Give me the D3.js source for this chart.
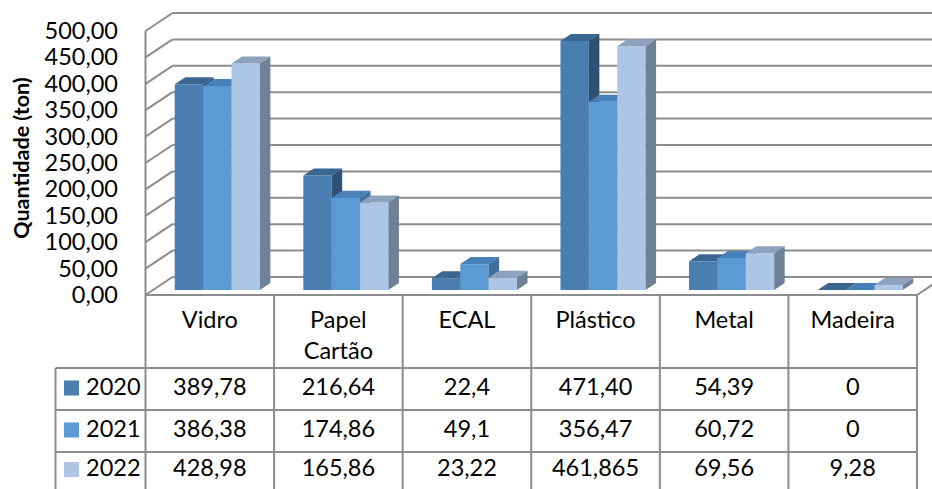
<!DOCTYPE html>
<html><head><meta charset="utf-8">
<script src="https://cdn.jsdelivr.net/npm/d3@7"></script>
<style>
html,body{margin:0;padding:0;background:#fff;}
svg{display:block;}
text{font-family:Lato,"Open Sans",sans-serif;fill:#000;}
</style></head>
<body><svg id="c" width="932" height="489"></svg>
<script>
const categories = [["Vidro"],["Papel","Cartão"],["ECAL"],["Plástico"],["Metal"],["Madeira"]];
const series = ["2020","2021","2022"];
const values2020 = [389.78,216.64,22.4,471.40,54.39,0];
const values2021 = [386.38,174.86,49.1,356.47,60.72,0];
const values2022 = [428.98,165.86,23.22,461.865,69.56,9.28];
const labels2020 = ["389,78","216,64","22,4","471,40","54,39","0"];
const labels2021 = ["386,38","174,86","49,1","356,47","60,72","0"];
const labels2022 = ["428,98","165,86","23,22","461,865","69,56","9,28"];
const yTicks = [0,50,100,150,200,250,300,350,400,450,500];
const seriesValues = [values2020, values2021, values2022];
const seriesLabels = [labels2020, labels2021, labels2022];
const frontColors = ["#4A7EB1","#5B9BD5","#ADC6E5"];
const topColors = ["#3A6690","#4880B8","#8DA2BC"];
const sideColors = ["#2F5274","#3F6F9C","#6E8196"];

const svg = d3.select("#c");
const DX = 27, DY = 18;
const xLeft = 145.5, xRight = 917;
const catNames = categories.map(c => c.join(" "));
const x = d3.scaleBand().domain(catNames).range([xLeft, xRight]);
const y = d3.scaleLinear().domain([0,500]).range([295,31]);
const bw = x.bandwidth();
const xs = d3.scaleBand().domain(series).range([bw*0.169, bw*0.831]);
const fmt = d3.formatLocale({decimal:",",thousands:".",grouping:[3],currency:["",""]}).format(".2f");
const P = (px, v, d) => [px + d*DX, y(v) - d*DY];
const grid = "#8C8C8C";
const FS = "23.5px";

// back wall gridlines
const g = svg.append("g");
yTicks.forEach(t => {
  const [bx, by] = P(xLeft, t, 1);
  g.append("line").attr("x1", bx).attr("x2", 940).attr("y1", by).attr("y2", by)
    .attr("stroke", grid).attr("stroke-width", 2);
  g.append("line").attr("x1", xLeft).attr("y1", y(t)).attr("x2", bx).attr("y2", by)
    .attr("stroke", grid).attr("stroke-width", 2);
});
// left wall front vertical
g.append("line").attr("x1", xLeft).attr("x2", xLeft).attr("y1", y(500)).attr("y2", 489)
  .attr("stroke", grid).attr("stroke-width", 2);
// floor front edge and right edge
g.append("line").attr("x1", xLeft).attr("x2", xRight).attr("y1", y(0)).attr("y2", y(0))
  .attr("stroke", grid).attr("stroke-width", 2);
{
  const [rx, ry] = P(xRight, 0, 1);
  g.append("line").attr("x1", xRight).attr("y1", y(0)).attr("x2", rx).attr("y2", ry)
    .attr("stroke", grid).attr("stroke-width", 2);
}

// y-axis labels
yTicks.forEach(t => {
  svg.append("text").attr("x", 118).attr("y", y(t) + 2).attr("text-anchor", "end")
    .attr("dominant-baseline", "middle").style("font-size", FS).text(fmt(t));
});
svg.append("text").attr("transform", "translate(23,158) rotate(-90)").attr("text-anchor", "middle")
  .attr("dominant-baseline", "middle").style("font-size", "21.5px").style("font-weight", "bold")
  .text("Quantidade (ton)");

// bars
const d0 = 5/18, d1 = 12/18;
const poly = pts => pts.map(p => p.join(",")).join(" ");
catNames.forEach((c, ci) => {
  series.forEach((s, si) => {
    const v = seriesValues[si][ci];
    const xa = x(c) + xs(s), xb = xa + xs.bandwidth();
    const bg = svg.append("g");
    bg.append("polygon").attr("points", poly([P(xa,0,d0),P(xb,0,d0),P(xb,v,d0),P(xa,v,d0)]))
      .attr("fill", frontColors[si]);
    bg.append("polygon").attr("points", poly([P(xa,v,d0),P(xb,v,d0),P(xb,v,d1),P(xa,v,d1)]))
      .attr("fill", topColors[si]);
    bg.append("polygon").attr("points", poly([P(xb,0,d0),P(xb,0,d1),P(xb,v,d1),P(xb,v,d0)]))
      .attr("fill", sideColors[si]);
  });
});

// table
const tb = svg.append("g");
const rowY = [368, 410, 452, 489];
const legLeft = 55.5;
catNames.forEach((c, ci) => {
  tb.append("line").attr("x1", x(c) + bw).attr("x2", x(c) + bw).attr("y1", y(0)).attr("y2", 489)
    .attr("stroke", grid).attr("stroke-width", 2);
});
rowY.slice(0,3).forEach(ry => {
  tb.append("line").attr("x1", legLeft).attr("x2", xRight).attr("y1", ry).attr("y2", ry)
    .attr("stroke", grid).attr("stroke-width", 2);
});
tb.append("line").attr("x1", legLeft).attr("x2", legLeft).attr("y1", 368).attr("y2", 489)
  .attr("stroke", grid).attr("stroke-width", 2);

categories.forEach((lines, ci) => {
  const cx = x(catNames[ci]) + bw/2;
  lines.forEach((ln, li) => {
    tb.append("text").attr("x", cx).attr("y", 322 + li*31).attr("text-anchor", "middle")
      .attr("dominant-baseline", "middle").style("font-size", FS).text(ln);
  });
});
series.forEach((s, si) => {
  const cy = (rowY[si] + rowY[si+1]) / 2;
  tb.append("rect").attr("x", 64).attr("y", cy - 8.5).attr("width", 15).attr("height", 15)
    .attr("fill", frontColors[si]);
  tb.append("text").attr("x", 86).attr("y", cy).attr("dominant-baseline", "middle")
    .style("font-size", FS).text(s);
  catNames.forEach((c, ci) => {
    tb.append("text").attr("x", x(c) + bw/2).attr("y", cy).attr("text-anchor", "middle")
      .attr("dominant-baseline", "middle").style("font-size", FS).text(seriesLabels[si][ci]);
  });
});
</script></body></html>
